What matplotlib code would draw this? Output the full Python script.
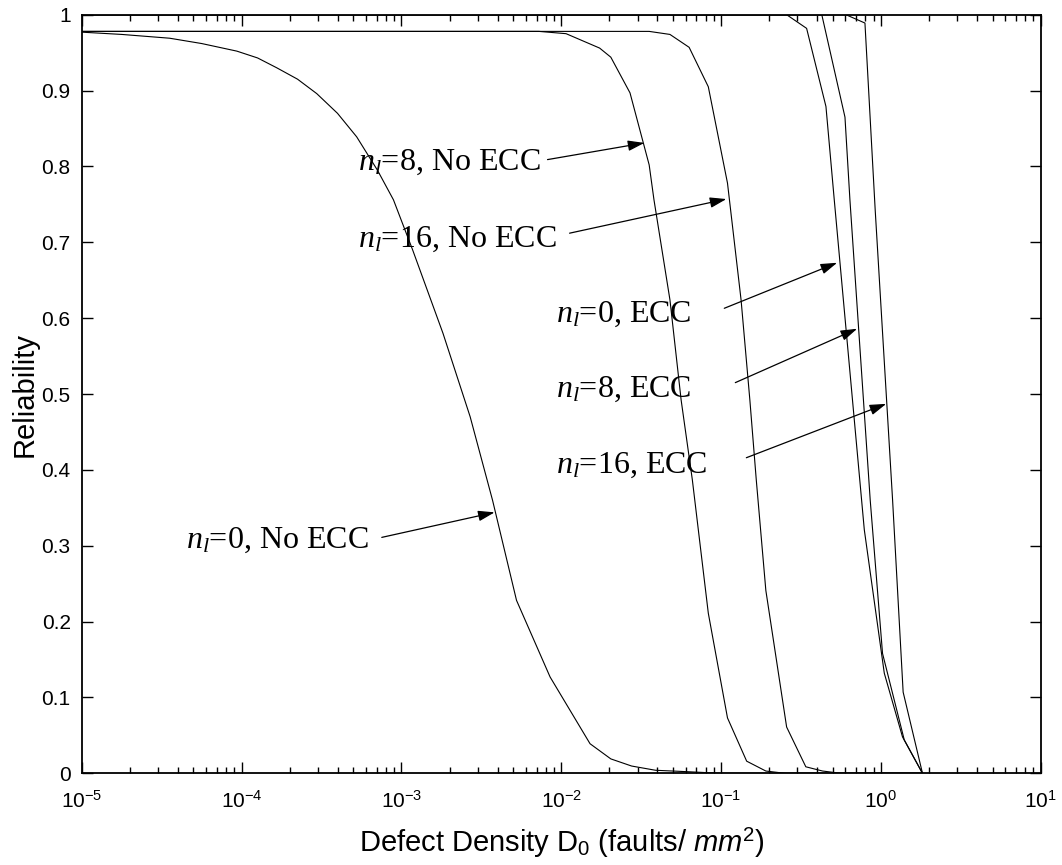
import matplotlib
matplotlib.use("Agg")
from matplotlib import pyplot as plt
from matplotlib import ticker
import numpy as np

plt.rcParams['font.family'] = ['Liberation Sans', 'DejaVu Sans']
plt.rcParams['mathtext.fontset'] = 'custom'
plt.rcParams['mathtext.rm'] = 'Liberation Sans'
plt.rcParams['mathtext.it'] = 'Liberation Serif:italic'
plt.rcParams['mathtext.sf'] = 'Liberation Sans:italic'

# log10 of defect density and reliability
logd_nl0_noecc = [-5.0, -4.75, -4.45, -4.25, -4.03, -3.9, -3.78, -3.65, -3.53, -3.4,
                  -3.28, -3.15, -3.05, -2.93, -2.74, -2.57, -2.43, -2.28, -2.07, -1.82,
                  -1.69, -1.56, -1.41, -1.26, -1.0, 0.26]
rel_nl0_noecc = [0.977, 0.974, 0.969, 0.962, 0.952, 0.943, 0.930, 0.915, 0.896, 0.870,
                 0.839, 0.795, 0.756, 0.690, 0.580, 0.470, 0.360, 0.228, 0.127, 0.039,
                 0.019, 0.0096, 0.004, 0.0026, 0.0, 0.0]

logd_nl8_noecc = [-5.0, -2.14, -1.97, -1.76, -1.69, -1.57, -1.45, -1.42, -1.32, -1.25,
                  -1.18, -1.08, -0.96, -0.84, -0.72, -0.6, 0.26]
rel_nl8_noecc = [0.978, 0.978, 0.975, 0.956, 0.944, 0.897, 0.802, 0.756, 0.624, 0.492,
                 0.387, 0.211, 0.073, 0.016, 0.003, 0.0, 0.0]

logd_nl16_noecc = [-5.0, -1.45, -1.32, -1.20, -1.08, -0.96, -0.875, -0.82, -0.78, -0.72,
                   -0.59, -0.47, -0.365, -0.25, 0.26]
rel_nl16_noecc = [0.978, 0.978, 0.974, 0.957, 0.905, 0.778, 0.624, 0.492, 0.387, 0.241,
                  0.061, 0.0086, 0.003, 0.0, 0.0]

logd_nl0_ecc = [-5.0, -0.59, -0.465, -0.344, -0.292, -0.104, 0.021, 0.135, 0.26]
rel_nl0_ecc = [1.0, 1.0, 0.982, 0.879, 0.756, 0.321, 0.132, 0.048, 0.0]

logd_nl8_ecc = [-5.0, -0.37, -0.225, -0.194, -0.067, 0.010, 0.146, 0.26]
rel_nl8_ecc = [1.0, 1.0, 0.865, 0.756, 0.360, 0.158, 0.044, 0.0]

logd_nl16_ecc = [-5.0, -0.219, -0.100, -0.036, 0.073, 0.139, 0.26]
rel_nl16_ecc = [1.0, 1.0, 0.989, 0.743, 0.360, 0.107, 0.0]

curves = [(logd_nl0_noecc, rel_nl0_noecc), (logd_nl8_noecc, rel_nl8_noecc),
          (logd_nl16_noecc, rel_nl16_noecc), (logd_nl0_ecc, rel_nl0_ecc),
          (logd_nl8_ecc, rel_nl8_ecc), (logd_nl16_ecc, rel_nl16_ecc)]

# labels: text, text position (log10 D, R baseline), arrow tail, arrow tip
labels = [r'$n_l$=0, No ECC', r'$n_l$=8, No ECC', r'$n_l$=16, No ECC',
          r'$n_l$=0, ECC', r'$n_l$=8, ECC', r'$n_l$=16, ECC']
label_pos = [(-4.35, 0.297), (-3.27, 0.795), (-3.27, 0.694),
             (-2.03, 0.595), (-2.03, 0.496), (-2.03, 0.396)]
arrow_tail = [(-3.123, 0.311), (-2.086, 0.809), (-1.948, 0.712),
              (-0.980, 0.613), (-0.911, 0.515), (-0.842, 0.416)]
arrow_tip = [(-2.417, 0.344), (-1.480, 0.831), (-0.967, 0.757),
             (-0.274, 0.673), (-0.149, 0.586), (0.033, 0.487)]

fig = plt.figure(figsize=(10.62, 8.65), dpi=100)
ax = fig.add_axes([0.077, 0.106, 0.903, 0.877])

for logd, rel in curves:
    ax.plot(10.0 ** np.array(logd), rel, color='k', linewidth=0.8)

for txt, pos, tail, tip in zip(labels, label_pos, arrow_tail, arrow_tip):
    ax.text(10.0 ** pos[0], pos[1], txt, fontsize=23, family='Liberation Serif',
            ha='left', va='baseline')
    ax.annotate('', xy=(10.0 ** tip[0], tip[1]), xytext=(10.0 ** tail[0], tail[1]),
                arrowprops=dict(arrowstyle='-|>,head_length=1.0,head_width=0.32',
                                color='k', lw=0.9, shrinkA=0, shrinkB=0))

ax.set_xscale('log')
ax.set_xlim(1e-5, 1e1)
ax.set_ylim(0, 1)
ax.xaxis.set_major_locator(ticker.LogLocator(base=10, numticks=10))
ax.xaxis.set_minor_locator(ticker.LogLocator(base=10, subs=np.arange(2, 10), numticks=100))
ax.xaxis.set_minor_formatter(ticker.NullFormatter())
ax.set_yticks(np.arange(0, 1.01, 0.1))
ax.set_yticklabels(['0', '0.1', '0.2', '0.3', '0.4', '0.5', '0.6', '0.7', '0.8', '0.9', '1'])
ax.tick_params(which='both', direction='in', top=True, right=True, labelsize=15, width=1)
ax.tick_params(which='major', length=8)
ax.tick_params(which='minor', length=4)
ax.tick_params(axis='x', which='major', pad=12)
ax.tick_params(axis='y', which='major', pad=8)
for sp in ax.spines.values():
    sp.set_linewidth(1.3)

ax.set_xlabel(r'Defect Density D$_0$ (faults/ $\mathsf{mm}^2$)', fontsize=21, labelpad=10)
ax.set_ylabel('Reliability', fontsize=21, labelpad=2)

fig.savefig('out.png', dpi=100)
